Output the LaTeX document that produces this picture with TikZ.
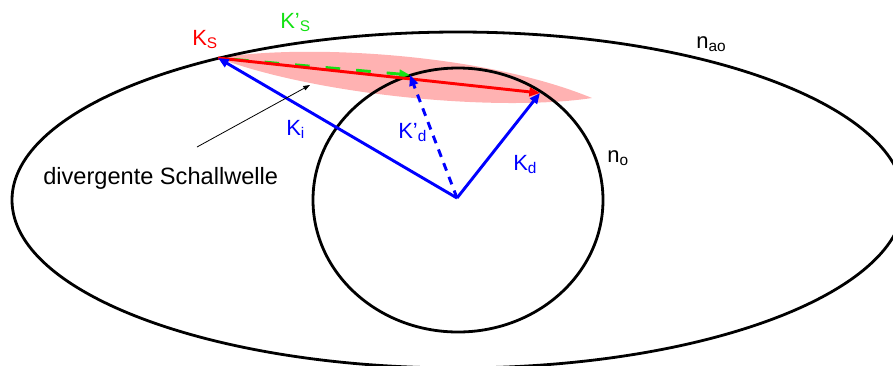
\documentclass[tikz,border=0pt]{standalone}
\usepackage{fontspec}
\setmainfont{Liberation Sans}
\usetikzlibrary{arrows.meta}
\definecolor{vgreen}{RGB}{20,225,20}
\begin{document}
\begin{tikzpicture}[x=0.75pt,y=-0.75pt,
  vec/.style={line width=2.2pt, -{Triangle[length=8pt,width=6.5pt]}},
  curve/.style={line width=2.1pt, black},
  lbl/.style={anchor=base west, inner sep=0pt, font=\fontsize{16.5}{19}\selectfont},
  txt/.style={anchor=base west, inner sep=0pt, font=\fontsize{17.7}{21}\selectfont}]
\useasboundingbox (0,0) rectangle (893,365);
\clip (0,0) rectangle (893,365);
\coordinate (O) at (457,198);
\coordinate (S) at (218,58);
\coordinate (D) at (540,93);
\coordinate (Dp) at (410,75);
\coordinate (T) at (592,98);
\coordinate (C) at (458,200);
\coordinate (A0) at (197,147);
\coordinate (A1) at (310,85);
% lens (divergent sound wave)
\fill[red!30] (S) .. controls (300,44) and (480,52) .. (T) .. controls (500,112) and (320,96) .. (S);
% index ellipsoids
\draw[curve] (C) ellipse [x radius=334.5pt, y radius=126pt];
\draw[curve] (C) ellipse [x radius=108.75pt, y radius=99pt];
% vectors
\draw[vec, vgreen, dash pattern=on 11pt off 12pt, dash phase=11pt] (S) -- (Dp);
\draw[vec, red] (S) -- (D);
\draw[vec, blue] (O) -- (S);
\draw[vec, blue] (O) -- (D);
\draw[vec, blue, dash pattern=on 6pt off 5pt] (O) -- (Dp);
\draw[line width=0.6pt, -{Triangle[length=5pt,width=3.5pt]}] (A0) -- (A1);
% labels
\node[lbl, red] (ks) at (192,45) {K\textsubscript{S}};
\node[lbl, vgreen] (ksp) at (280,28) {K’\textsubscript{S}};
\node[lbl] (nao) at (696,48) {n\textsubscript{ao}};
\node[lbl] (no) at (607,162) {n\textsubscript{o}};
\node[lbl, blue] (ki) at (286,135) {K\textsubscript{i}};
\node[lbl, blue] (kdp) at (398,138) {K’\textsubscript{d}};
\node[lbl, blue] (kd) at (513,170) {K\textsubscript{d}};
\node[txt] (dv) at (43,184) {divergente Schallwelle};
\end{tikzpicture}
\end{document}
